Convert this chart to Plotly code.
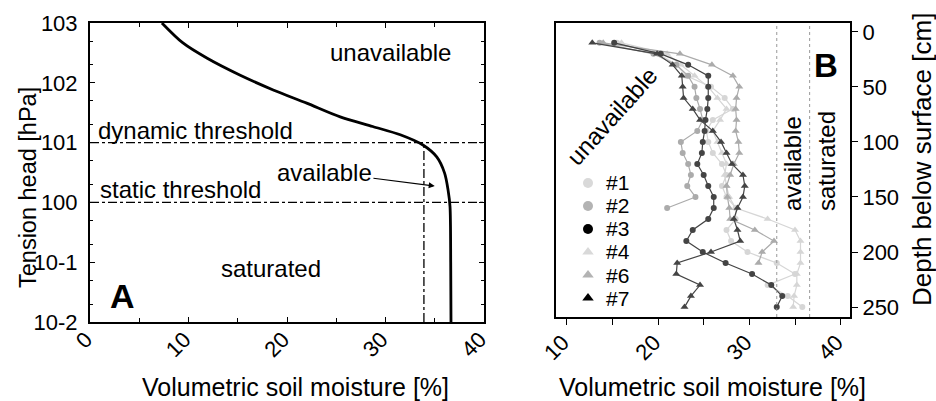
import math
import plotly.graph_objects as go

# ---------------- data ----------------
# Panel A: retention curve (volumetric moisture %, tension head hPa)
curve_theta = [7.3, 9.4, 11.9, 15.2, 18.6, 22.0, 25.4, 28.7, 31.5, 33.8, 35.2, 36.0, 36.35, 36.55, 36.62, 36.65]
curve_head = [1000, 468, 257, 135, 76, 45.7, 26.9, 18.6, 13.5, 9.1, 5.75, 3.09, 1.62, 0.85, 0.1, 0.01]
dynamic_threshold = 10      # hPa
static_threshold = 1        # hPa
threshold_theta = 33.9      # % at dynamic threshold
head_tickvals = [0.01, 0.1, 1, 10, 100, 1000]
head_ticktext = ["10-2", "10-1", "100", "101", "102", "103"]

# Panel B: soil moisture profiles (depth cm)
depth = [10, 20, 30, 40, 50, 60, 70, 80, 90, 100, 110, 120, 130, 140, 150,
         160, 170, 180, 190, 200, 210, 220, 230, 240, 250]
p1 = [15.5, 20.0, 22.0, 23.1, 25.8, 27.3, 28.2, 26.0, 25.3, 25.5, 26.0, 27.0, 27.5,
      27.0, 27.5, 28.5, 28.5, 27.5, 28.0, 29.8, 33.0, 35.0, 32.0, 34.2, 35.8]
p2 = [13.6, 19.5, 22.0, 23.3, 24.0, 24.2, 24.6, 24.9, 24.3, 22.5, 22.7, 23.3, 23.6,
      23.2, 24.1, 21.0]
p3 = [15.2, 20.3, 23.3, 25.5, 25.5, 25.5, 25.4, 25.2, 25.1, 24.9, 24.8, 24.3, 25.0,
      25.5, 26.1, 26.1, 25.5, 23.8, 23.1, 24.9, 27.4, 30.3, 32.4, 33.6, 33.0]
p4 = [16.0, 21.0, 22.5, 24.0, 25.5, 26.5, 27.5, 26.8, 26.0, 26.5, 27.0, 27.5, 27.3,
      27.5, 27.8, 28.5, 32.0, 35.0, 35.6, 35.6, 35.6, 35.2, 35.2, 34.9, 34.8]
p6 = [14.0, 22.4, 25.9, 28.2, 28.9, 28.6, 28.5, 28.6, 28.5, 28.8, 28.9, 28.3, 27.9,
      27.5, 27.6, 27.8, 27.9, 30.6, 32.7, 31.4, 31.0]
p7 = [12.8, 19.9, 21.6, 22.6, 22.7, 22.8, 23.8, 24.6, 26.0, 26.9, 27.5, 28.1, 29.3,
      29.5, 29.3, 28.7, 28.3, 28.7, 29.0, 25.8, 22.1, 22.0, 24.6, 23.6, 22.9]
available_limit = 33.0
saturated_limit = 36.6
depth_tickvals = [0, 50, 100, 150, 200, 250]
legend_names = ["#1", "#2", "#3", "#4", "#6", "#7"]

W, H = 936, 401
def px(x): return x / W
def py(y): return 1 - y / H

FONT = "Liberation Sans, Arial, Helvetica, sans-serif"
LIGHT, MED, DARK = "#d6d6d6", "#ababab", "#444444"

fig = go.Figure()

# ---------- Panel A ----------
dd = dict(color="black", width=1.3, dash="dashdot")
fig.add_trace(go.Scatter(x=[0, 40], y=[dynamic_threshold]*2, mode="lines", line=dd,
                         xaxis="x", yaxis="y", showlegend=False, hoverinfo="skip"))
fig.add_trace(go.Scatter(x=[0, 40], y=[static_threshold]*2, mode="lines", line=dd,
                         xaxis="x", yaxis="y", showlegend=False, hoverinfo="skip"))
fig.add_trace(go.Scatter(x=[threshold_theta]*2, y=[0.01, dynamic_threshold], mode="lines", line=dd,
                         xaxis="x", yaxis="y", showlegend=False, hoverinfo="skip"))
fig.add_trace(go.Scatter(x=curve_theta, y=curve_head, mode="lines",
                         line=dict(color="black", width=2.8, shape="spline", smoothing=0.8),
                         xaxis="x", yaxis="y", showlegend=False))

# ---------- Panel B ----------
series = [("#1", p1, LIGHT, "circle"), ("#4", p4, LIGHT, "triangle-up"),
          ("#2", p2, MED, "circle"), ("#6", p6, MED, "triangle-up"),
          ("#3", p3, DARK, "circle"), ("#7", p7, DARK, "triangle-up")]
for name, vals, col, sym in series:
    fig.add_trace(go.Scatter(x=vals, y=depth[:len(vals)], mode="lines+markers",
                             line=dict(color=col, width=1.2),
                             marker=dict(color=col, symbol=sym, size=6 if sym == "circle" else 7),
                             xaxis="x2", yaxis="y2", showlegend=False, name=name))

# custom legend on a hidden helper axis
leg_cols = ["#d9d9d9", "#b3b3b3", "black", "#d9d9d9", "#b3b3b3", "black"]
leg_syms = ["circle", "circle", "circle", "triangle-up", "triangle-up", "triangle-up"]
leg_idx = list(range(len(legend_names)))
fig.add_trace(go.Scatter(x=[0.5]*len(leg_idx), y=leg_idx, mode="markers",
                         marker=dict(color=leg_cols, symbol=leg_syms, size=10),
                         xaxis="x3", yaxis="y3", showlegend=False, hoverinfo="skip"))

ax_common = dict(showgrid=False, zeroline=False, showline=True, linecolor="black",
                 automargin=False, tickfont=dict(size=22, color="black", family=FONT),
                 tickcolor="black")

fig.update_layout(
    width=W, height=H, margin=dict(l=0, r=0, t=0, b=0),
    paper_bgcolor="white", plot_bgcolor="white", showlegend=False,
    font=dict(family=FONT, color="black"),
    xaxis=dict(**ax_common, domain=[px(90), px(484)], range=[0, 40], anchor="y",
               tickvals=[0, 10, 20, 30, 40], ticks="inside", ticklen=5, tickwidth=1.2,
               minor=dict(ticks="inside", ticklen=4, dtick=5, tickcolor="black"),
               mirror="allticks", linewidth=2, tickangle=-45,
               ticklabelstandoff=-6, ticklabelshift=-4),
    yaxis=dict(**ax_common, domain=[py(322), py(23)], type="log", range=[-2, 3], anchor="x",
               tickvals=head_tickvals, ticktext=head_ticktext, ticks="inside", ticklen=5,
               minor=dict(ticks="inside", ticklen=3, tickcolor="black"),
               mirror="allticks", linewidth=2, ticklabelstandoff=6),
    xaxis2=dict(**ax_common, domain=[px(556), px(850)], range=[8.83, 41.02], anchor="y2",
                tickvals=[10, 15, 20, 25, 30, 35, 40], ticktext=["10", "", "20", "", "30", "", "40"],
                ticks="outside", ticklen=6, tickwidth=1.2, mirror=True, linewidth=2, tickangle=-45,
                ticklabelstandoff=-4, ticklabelshift=-4),
    yaxis2=dict(**ax_common, domain=[py(317), py(23)], range=[259, -8], anchor="x2", side="right",
                tickvals=depth_tickvals, ticks="outside", ticklen=6, tickwidth=1.2,
                mirror=True, linewidth=2),
    xaxis3=dict(domain=[px(580), px(596)], range=[0, 1], visible=False, anchor="y3"),
    yaxis3=dict(domain=[py(309.5), py(171.5)], range=[5.5, -0.5], visible=False, anchor="x3"),
    shapes=[
        dict(type="line", xref="x2", yref="y2 domain", x0=available_limit, x1=available_limit,
             y0=0, y1=1, line=dict(color="#999999", width=1, dash="dot")),
        dict(type="line", xref="x2", yref="y2 domain", x0=saturated_limit, x1=saturated_limit,
             y0=0, y1=1, line=dict(color="#999999", width=1, dash="dot")),
    ],
)

for i, nm in zip(leg_idx, legend_names):
    fig.add_annotation(text=nm, x=px(605), y=i, xref="paper", yref="y3", xanchor="left",
                       yanchor="middle", showarrow=False, borderpad=0,
                       font=dict(size=21, family=FONT, color="black"))

def ann(text, x, y, size=24, xanchor="center", yanchor="middle", angle=0, bold=False):
    t = f"<b>{text}</b>" if bold else text
    fig.add_annotation(text=t, x=px(x), y=py(y), xref="paper", yref="paper",
                       xanchor=xanchor, yanchor=yanchor, textangle=angle, showarrow=False,
                       font=dict(size=size, family=FONT, color="black"))

ann("unavailable", 390, 53)
ann("dynamic threshold", 96, 130, xanchor="left")
ann("static threshold", 98, 189, xanchor="left")
ann("saturated", 271, 268)
ann("A", 122, 296, size=34, bold=True)
ann("Tension head [hPa]", 28, 188, size=23.5, angle=-90)
ann("Volumetric soil moisture [%]", 295, 387, size=25)
ann("Volumetric soil moisture [%]", 712, 387, size=25)
ann("B", 826, 66, size=33, bold=True)
ann("unavailable", 612, 117, angle=-48)
ann("available", 792, 164, angle=-90)
ann("saturated", 826, 161, angle=-90)
ann("Depth below surface [cm]", 922, 160, size=26, angle=-90)

# arrow from "available" label to the available-water region (log axis -> log10 coords)
fig.add_annotation(text="available", x=35.0, y=math.log10(1.88), xref="x", yref="y",
                   ax=23.8, ay=math.log10(3.22), axref="x", ayref="y",
                   showarrow=True, arrowhead=2, arrowsize=1, arrowwidth=1.2, arrowcolor="black",
                   font=dict(size=24, family=FONT, color="black"))

fig.write_html("out.html", config={"displayModeBar": False},
               post_script="document.body.style.margin='0';document.body.style.padding='0';"
                           "document.documentElement.style.overflow='hidden';")
